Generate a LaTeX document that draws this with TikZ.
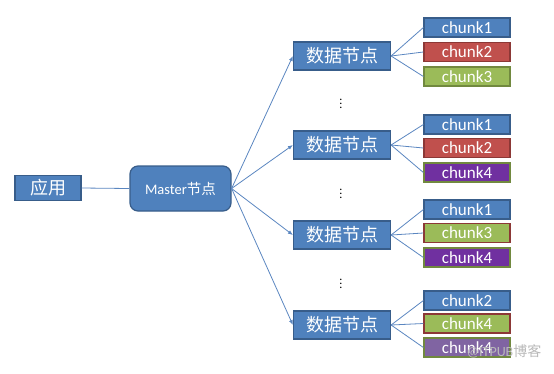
\documentclass[tikz,border=0pt]{standalone}
\usepackage{fontspec}
\setmainfont{Carlito}
\newfontfamily\cjk{Noto Sans CJK SC}
\usetikzlibrary{arrows.meta}

\definecolor{boxblue}{HTML}{4F81BD}
\definecolor{lineblue}{HTML}{385D8A}
\definecolor{boxred}{HTML}{C0504D}
\definecolor{linered}{HTML}{8C3836}
\definecolor{boxgreen}{HTML}{9BBB59}
\definecolor{linegreen}{HTML}{71893F}
\definecolor{boxpurple}{HTML}{7030A0}
\definecolor{boxlilac}{HTML}{8064A2}
\definecolor{wireblue}{HTML}{5A86C0}

\begin{document}
\begin{tikzpicture}[x=1pt, y=-1pt,
  box/.style={draw=lineblue, fill=boxblue, line width=1.2pt, text=white, inner sep=0pt},
  datanode/.style={box, minimum width=97pt, minimum height=28pt,
    font=\cjk\fontsize{18}{18}\selectfont},
  chunkbox/.style 2 args={fill=#1, draw=#2, line width=1.2pt, text=white,
    inner sep=0pt, minimum width=86pt, minimum height=19pt,
    font=\fontsize{17}{17}\selectfont},
  wire/.style={draw=wireblue, line width=0.8pt}]

  \useasboundingbox (0,0) rectangle (554,373);

  % --- Applicazione e master ---
  \node[box, minimum width=66pt, minimum height=25pt,
    font=\cjk\fontsize{18}{18}\selectfont] (app) at (48,188) {应用};
  \node[box, rounded corners=8pt, minimum width=101pt, minimum height=45pt,
    font=\fontsize{14.5}{14.5}\selectfont] (m) at (180.5,188.5) {Master{\cjk 节点}};
  \draw[wire] (app.east) -- (m.west);

  % --- Nodi dati ---
  \foreach \i/\y in {1/56, 2/145, 3/235, 4/325}{
    \node[datanode] (d\i) at (342,\y) {数据节点};
    \draw[wire, -{Latex[length=5pt, width=4pt]}] (m.east) -- (d\i.west);
  }

  % --- Puntini ---
  \foreach \k/\y in {1/101, 2/191, 3/281}{
    \node[inner sep=0pt, font=\fontsize{12}{12}\selectfont] (v\k) at (341,\y) {$\vdots$};
  }

  % --- Chunk (gruppo/riga/y/testo/riempimento/bordo) ---
  \foreach \i/\j/\y/\txt/\col/\edge in {
      1/1/27.5/chunk1/boxblue/lineblue,
      1/2/52/chunk2/boxred/linered,
      1/3/76.5/chunk3/boxgreen/linegreen,
      2/1/124.5/chunk1/boxblue/lineblue,
      2/2/148/chunk2/boxred/linered,
      2/3/172.5/chunk4/boxpurple/linegreen,
      3/1/209.5/chunk1/boxblue/lineblue,
      3/2/233/chunk3/boxgreen/linered,
      3/3/257.5/chunk4/boxpurple/linegreen,
      4/1/300.5/chunk2/boxblue/lineblue,
      4/2/323.5/chunk4/boxgreen/linered,
      4/3/347.5/chunk4/boxlilac/linegreen}{
    \node[chunkbox={\col}{\edge}] (c\i\j) at (467,\y) {\txt};
    \draw[wire] (d\i.east) -- (c\i\j.west);
  }

  % --- Filigrana ---
  \node[text=gray!55, font=\fontsize{14}{14}\selectfont] (wm) at (504,351)
    {@ITPUB{\cjk 博客}};

\end{tikzpicture}
\end{document}
